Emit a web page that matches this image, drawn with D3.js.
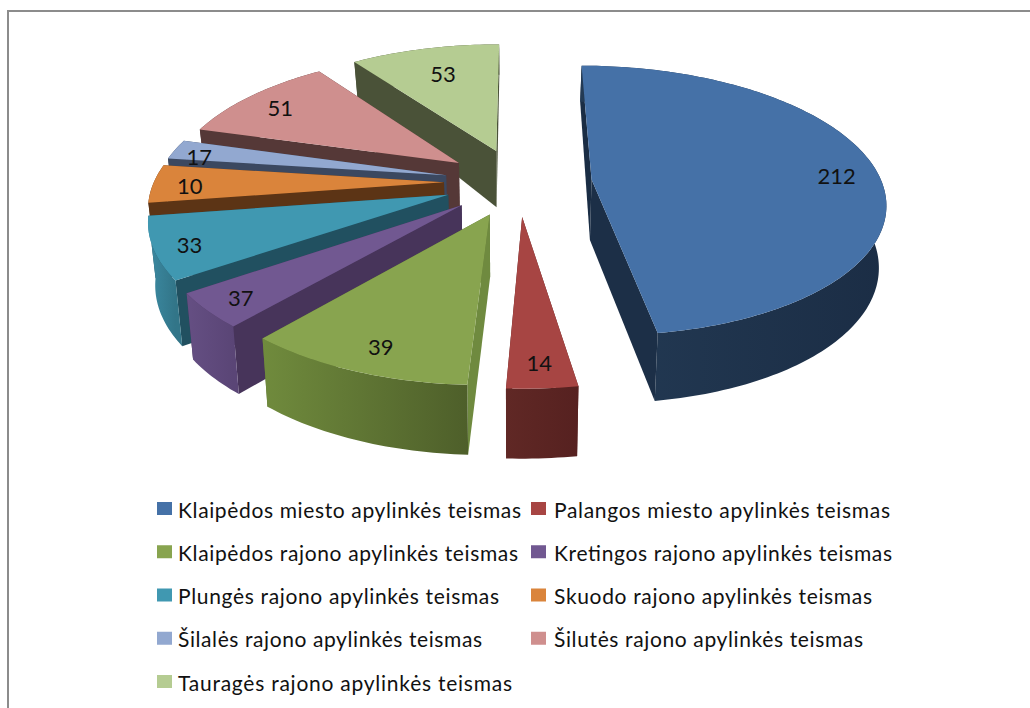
<!DOCTYPE html>
<html><head><meta charset="utf-8">
<script src="https://cdn.jsdelivr.net/npm/d3@7"></script>
<style>html,body{margin:0;background:#fff}svg{display:block}text{font-family:Lato,"Open Sans",sans-serif;fill:#111}</style>
</head><body><svg id="c" width="1030" height="708"></svg>
<script>
const categories = ["Klaipėdos miesto apylinkės teismas","Palangos miesto apylinkės teismas","Klaipėdos rajono apylinkės teismas","Kretingos rajono apylinkės teismas","Plungės rajono apylinkės teismas","Skuodo rajono apylinkės teismas","Šilalės rajono apylinkės teismas","Šilutės rajono apylinkės teismas","Tauragės rajono apylinkės teismas"];
// the numbers printed on the wedges
const labels = ["212","14","39","37","33","10","17","51","53"];
// wedge sizes as they are drawn in the picture (they differ from the printed numbers)
const values = [222,15,49,19,34,21,11,50,46];
const topColors = ["#4571A7","#A74543","#88A44F","#715891","#4098B1","#DA843B","#92A8D0","#CF8F8E","#B5CC92"];
const startWall = ["#1A2D44","#5A2320","#6F8A3F","#47345A","#215060","#5C3415","#3B4860","#553837","#4A5238"];
const endWall   = ["#1C2F47","#5A2320","#5A6F32","#47345A","#215060","#5C3415","#3B4860","#553837","#4A5238"];
const arcLeft   = ["#233A54","#602825","#708B3D","#654F83","#3C8AA2","#5C3415","#3B4860","#553837","#4A5238"];
const arcRight  = ["#1B2D45","#562120","#4E5F2A","#5A4576","#327588","#5C3415","#3B4860","#553837","#4A5238"];
const legendEnds = [521,890,518,892,499,872,482,863,512];
const labelFrac = [.835,.855,.845,.867,.871,.853,.874,.813,.712];
const labelTurn = [2.8,0,-1.1,-.4,-1.5,-1.6,-2.9,-1.5,.2];

const cx=518, cy=182, R=296, A=135, p=.16, vpx=510, explode=.25, radius=.98;
const svg=d3.select("#c");
const defs=svg.append("defs");
svg.append("path").attr("d","M8 708V11H1030").attr("fill","none").attr("stroke","#8c8c8c").attr("stroke-width",2);

const depth=d3.scaleLinear().domain([1.23,.1,-1.23]).range([30,60,70]);
const pie=d3.pie().sort(null).value(d=>d);
const project=(x,y)=>{const w=1/(1+p*y);return [cx+R*x*w,cy-A*y*w];};
const lower=(x,y)=>{const t=project(x,y);return [t[0]-(t[0]-vpx)*.02,t[1]+depth(y)];};
const line=d3.line();
const arcs=pie(values);
d3.range(values.length).reverse().forEach(i=>{
  const a0=arcs[i].startAngle,a1=arcs[i].endAngle,m=(a0+a1)/2;
  const ax=explode*Math.sin(m),ay=explode*Math.cos(m);
  const n=Math.max(4,Math.ceil((a1-a0)/.02));
  const rim=d3.range(n+1).map(k=>{const t=a0+(a1-a0)*k/n;return [ax+radius*Math.sin(t),ay+radius*Math.cos(t)];});
  const g=svg.append("g");
  const wall=pts=>line([...pts.map(q=>project(q[0],q[1])),...pts.slice().reverse().map(q=>lower(q[0],q[1]))])+"Z";
  const gid="wall"+i, xs=d3.extent(rim,q=>project(q[0],q[1])[0]);
  const lg=defs.append("linearGradient").attr("id",gid).attr("gradientUnits","userSpaceOnUse")
    .attr("x1",xs[0]).attr("x2",xs[1]).attr("y1",0).attr("y2",0);
  lg.append("stop").attr("offset",0).attr("stop-color",arcLeft[i]);
  lg.append("stop").attr("offset",1).attr("stop-color",arcRight[i]);
  const faces=[
    {c:startWall[i],k:(ay+rim[0][1])/2,pts:[[ax,ay],rim[0]]},
    {c:endWall[i],k:(ay+rim[n][1])/2,pts:[[ax,ay],rim[n]]},
    {c:`url(#${gid})`,k:d3.mean(rim,q=>q[1]),pts:rim}
  ];
  faces.sort((f,h)=>h.k-f.k).forEach(f=>g.append("path").attr("d",wall(f.pts)).attr("fill",f.c));
  g.append("path").attr("d",line([[ax,ay],...rim].map(q=>project(q[0],q[1])))+"Z").attr("fill",topColors[i]);
});
// data labels
arcs.forEach((d,i)=>{
  const m=(d.startAngle+d.endAngle)/2,t=m+labelTurn[i]*Math.PI/180,f=labelFrac[i];
  const P=project(explode*Math.sin(m)+f*Math.sin(t),explode*Math.cos(m)+f*Math.cos(t));
  svg.append("text").attr("x",P[0]).attr("y",P[1]).attr("dy",".35em").attr("text-anchor","middle").attr("font-size",22).text(labels[i]);
});
// legend
const colX=d3.scalePoint().domain([0,1]).range([157,531]);
const rowY=d3.scaleLinear().domain([0,4]).range([502,675]);
categories.forEach((c,i)=>{
  const col=i%2,row=Math.floor(i/2),x=colX(col),y=rowY(row);
  svg.append("rect").attr("x",x).attr("y",y).attr("width",15).attr("height",13).attr("fill",topColors[i]);
  const tx=x+(col?23:21);
  svg.append("text").attr("x",tx).attr("y",y+15.5).attr("font-size",21).attr("textLength",legendEnds[i]-tx).attr("lengthAdjust","spacing").text(c);
});
</script></body></html>
